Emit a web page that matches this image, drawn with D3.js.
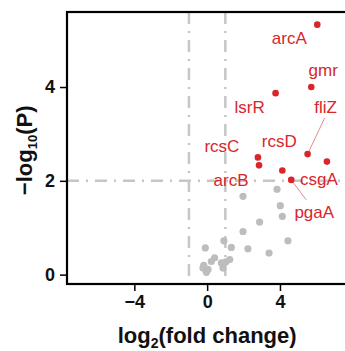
<!DOCTYPE html>
<html>
<head>
<meta charset="utf-8">
<script src="https://cdn.jsdelivr.net/npm/d3@7"></script>
<style>
html,body{margin:0;padding:0;background:#fff;overflow:hidden;}
svg{display:block;font-family:"Liberation Sans",Arial,Helvetica,sans-serif;}
</style>
</head>
<body>
<svg id="chart" width="345" height="351"></svg>
<script>
// ---- data ----
const sigGenes = ["arcA","gmr","lsrR","fliZ","rcsC","arcB","rcsD","csgA","pgaA"];
const sigLog2FC = [6.05, 5.72, 3.76, 5.52, 2.79, 2.85, 4.13, 6.58, 4.62];
const sigLogP   = [5.33, 4.00, 3.87, 2.57, 2.50, 2.33, 2.22, 2.41, 2.02];

const nsLog2FC = [3.84, 1.97, 4.02, 4.13, 2.88, 1.97, 4.44, 0.92, 1.33, 2.24, 3.40, -0.10, 0.41, 0.23, -0.19, 0.05, 0.78, 1.02, 0.87, 1.24, -0.23, -0.04];
const nsLogP   = [1.82, 1.67, 1.47, 1.24, 1.12, 0.92, 0.72, 0.72, 0.58, 0.55, 0.46, 0.57, 0.36, 0.28, 0.20, 0.11, 0.25, 0.27, 0.14, 0.32, 0.14, 0.05];

const xTicks = [-4, 0, 4];
const yTicks = [0, 2, 4];
const fcThresholds = [-1, 1];
const pThreshold = 2;

// label placement (pixel offsets from point: dx, dy to text baseline-centre), leader flag
const labelPlacement = {
  arcA: {dx: -28, dy: 19, leader: false},
  gmr:  {dx: 12,  dy: -11, leader: false},
  lsrR: {dx: -26, dy: 20, leader: false},
  fliZ: {dx: 18,  dy: -41, leader: true, lx: 17, ly: -36},
  rcsC: {dx: -36, dy: -5, leader: false},
  arcB: {dx: -28, dy: 21, leader: false},
  rcsD: {dx: -3,  dy: -24, leader: false},
  csgA: {dx: -8,  dy: 23, leader: false},
  pgaA: {dx: 23,  dy: 38, leader: true, lx: 15, ly: 20}
};

// ---- scales ----
const svg = d3.select("#chart");
const x = d3.scaleLinear().domain([-7.7, 7.7]).range([67, 347.3]);
const y = d3.scaleLinear().domain([-0.2, 5.6]).range([284, 12]);

const red = "#d8262b";
const grey = "#bdbdbd";
const lineGrey = "#c6c6c6";

// threshold lines
const dash = "12,7,2,7";
svg.selectAll("line.vth").data(fcThresholds).enter().append("line")
  .attr("x1", d => x(d)).attr("x2", d => x(d))
  .attr("y1", y(5.6)).attr("y2", y(-0.2))
  .attr("stroke", lineGrey).attr("stroke-width", 2.5)
  .attr("stroke-dasharray", dash);
svg.append("line")
  .attr("x1", x(-7.7)).attr("x2", x(7.7))
  .attr("y1", y(pThreshold)).attr("y2", y(pThreshold))
  .attr("stroke", lineGrey).attr("stroke-width", 2.5)
  .attr("stroke-dasharray", dash);

// non-significant points
svg.selectAll("circle.ns").data(nsLog2FC.map((v,i)=>({x:v,y:nsLogP[i]}))).enter()
  .append("circle")
  .attr("cx", d => x(d.x)).attr("cy", d => y(d.y)).attr("r", 3.6)
  .attr("fill", grey);

// significant points
const sig = sigGenes.map((g,i)=>({g, x:sigLog2FC[i], y:sigLogP[i]}));
svg.selectAll("line.leader").data(sig.filter(d=>labelPlacement[d.g].leader)).enter()
  .append("line")
  .attr("x1", d => x(d.x)).attr("y1", d => y(d.y))
  .attr("x2", d => x(d.x) + labelPlacement[d.g].lx)
  .attr("y2", d => y(d.y) + labelPlacement[d.g].ly)
  .attr("stroke", "#e58a8c").attr("stroke-width", 1);
svg.selectAll("circle.sig").data(sig).enter()
  .append("circle")
  .attr("cx", d => x(d.x)).attr("cy", d => y(d.y)).attr("r", 3.3)
  .attr("fill", red);
svg.selectAll("text.lab").data(sig).enter()
  .append("text")
  .attr("x", d => x(d.x) + labelPlacement[d.g].dx)
  .attr("y", d => y(d.y) + labelPlacement[d.g].dy)
  .attr("text-anchor", "middle")
  .attr("font-size", 17)
  .attr("fill", red)
  .text(d => d.g);

// axes
const fmt = d => d < 0 ? "\u2212" + Math.abs(d) : String(d);
const gx = svg.append("g").attr("transform", `translate(0,${y(-0.2)})`)
  .call(d3.axisBottom(x).tickValues(xTicks).tickFormat(fmt).tickSize(7).tickSizeOuter(0).tickPadding(4));
const gy = svg.append("g").attr("transform", `translate(${x(-7.7)},0)`)
  .call(d3.axisLeft(y).tickValues(yTicks).tickFormat(fmt).tickSize(7).tickSizeOuter(0).tickPadding(5));
[gx, gy].forEach(g => {
  g.select(".domain").remove();
  g.selectAll(".tick line").attr("stroke", "#000").attr("stroke-width", 1.5);
  g.selectAll(".tick text").attr("font-size", 18).attr("font-weight", "bold")
    .attr("fill", "#111").attr("font-family", "Liberation Sans, Arial, sans-serif");
});

// frame
svg.append("rect")
  .attr("x", x(-7.7)).attr("y", y(5.6))
  .attr("width", x(7.7) - x(-7.7)).attr("height", y(-0.2) - y(5.6))
  .attr("fill", "none").attr("stroke", "#000").attr("stroke-width", 2.2);

// axis titles
const xt = svg.append("text").attr("x", x(0)).attr("y", 343)
  .attr("text-anchor", "middle").attr("font-size", 22).attr("font-weight", "bold").attr("fill", "#111");
xt.append("tspan").text("log");
xt.append("tspan").attr("font-size", 14).attr("dy", 5).text("2");
xt.append("tspan").attr("dy", -5).text("(fold change)");

const yt = svg.append("text")
  .attr("transform", `translate(32,${y(2.65)}) rotate(-90)`)
  .attr("text-anchor", "middle").attr("font-size", 22).attr("font-weight", "bold").attr("fill", "#111");
yt.append("tspan").text("\u2212log");
yt.append("tspan").attr("font-size", 13).attr("dy", 5).text("10");
yt.append("tspan").attr("dy", -5).text("(P)");
</script>
</body>
</html>
